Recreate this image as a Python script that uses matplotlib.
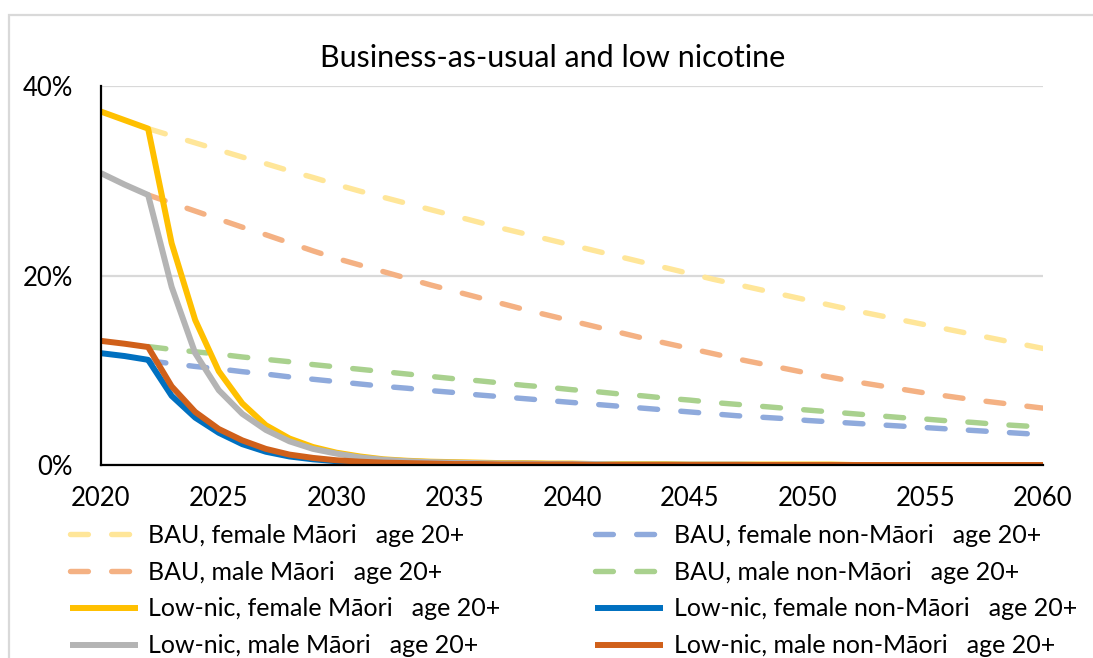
import matplotlib
matplotlib.use("Agg")
import matplotlib.pyplot as plt
from matplotlib.patches import Rectangle

plt.rcParams['font.family'] = ['Lato', 'DejaVu Sans']

# ---------------- data ----------------
years_ln = list(range(2020, 2061))
years_bau = list(range(2022, 2061))

bau_female_maori = [35.5, 34.75, 34.0, 33.25, 32.5, 31.8, 31.05, 30.35, 29.6, 28.9,
                    28.25, 27.6, 26.95, 26.3, 25.65, 25.0, 24.4, 23.8, 23.2, 22.6,
                    22.0, 21.4, 20.8, 20.2, 19.6, 19.05, 18.5, 17.95, 17.4, 16.85,
                    16.3, 15.8, 15.3, 14.8, 14.3, 13.8, 13.3, 12.8, 12.3]
bau_male_maori = [28.5, 27.65, 26.8, 25.95, 25.1, 24.3, 23.45, 22.6, 21.8, 21.1,
                  20.4, 19.7, 19.0, 18.35, 17.7, 17.05, 16.4, 15.8, 15.2, 14.6,
                  14.0, 13.4, 12.85, 12.3, 11.75, 11.2, 10.7, 10.2, 9.7, 9.25,
                  8.8, 8.4, 8.0, 7.6, 7.25, 6.9, 6.6, 6.3, 6.0]
bau_female_nonmaori = [11.0, 10.7, 10.4, 10.15, 9.85, 9.6, 9.3, 9.05, 8.8, 8.55,
                       8.3, 8.1, 7.85, 7.65, 7.4, 7.2, 7.0, 6.8, 6.6, 6.4,
                       6.2, 6.0, 5.8, 5.6, 5.4, 5.2, 5.05, 4.9, 4.7, 4.55,
                       4.4, 4.25, 4.1, 3.95, 3.8, 3.65, 3.5, 3.35, 3.2]
bau_male_nonmaori = [12.5, 12.2, 11.95, 11.7, 11.4, 11.15, 10.9, 10.6, 10.35, 10.1,
                     9.85, 9.6, 9.35, 9.1, 8.9, 8.65, 8.4, 8.2, 7.95, 7.75,
                     7.5, 7.3, 7.05, 6.85, 6.6, 6.4, 6.2, 6.0, 5.8, 5.6,
                     5.4, 5.2, 5.0, 4.85, 4.65, 4.5, 4.3, 4.15, 4.0]

ln_female_maori = [37.3, 36.4, 35.5, 23.4, 15.3, 9.9, 6.5, 4.2, 2.8, 1.9,
                   1.3, 0.9, 0.6, 0.45, 0.35, 0.3, 0.25, 0.2, 0.2, 0.15,
                   0.15, 0.1, 0.1, 0.1, 0.1, 0.05, 0.05, 0.05, 0.05, 0.05,
                   0.05, 0.05, 0.0, 0.0, 0.0, 0.0, 0.0, 0.0, 0.0, 0.0, 0.0]
ln_male_maori = [30.8, 29.6, 28.5, 18.8, 11.8, 7.9, 5.4, 3.7, 2.5, 1.7,
                 1.2, 0.8, 0.55, 0.4, 0.3, 0.25, 0.2, 0.15, 0.15, 0.1,
                 0.1, 0.1, 0.05, 0.05, 0.05, 0.05, 0.05, 0.05, 0.0, 0.0,
                 0.0, 0.0, 0.0, 0.0, 0.0, 0.0, 0.0, 0.0, 0.0, 0.0, 0.0]
ln_female_nonmaori = [11.8, 11.5, 11.1, 7.3, 5.0, 3.4, 2.2, 1.4, 0.9, 0.6,
                      0.4, 0.3, 0.2, 0.15, 0.1, 0.1, 0.05, 0.05, 0.05, 0.05,
                      0.0, 0.0, 0.0, 0.0, 0.0, 0.0, 0.0, 0.0, 0.0, 0.0,
                      0.0, 0.0, 0.0, 0.0, 0.0, 0.0, 0.0, 0.0, 0.0, 0.0, 0.0]
ln_male_nonmaori = [13.1, 12.8, 12.45, 8.3, 5.6, 3.8, 2.6, 1.7, 1.1, 0.75,
                    0.5, 0.35, 0.25, 0.2, 0.15, 0.1, 0.1, 0.05, 0.05, 0.05,
                    0.05, 0.0, 0.0, 0.0, 0.0, 0.0, 0.0, 0.0, 0.0, 0.0,
                    0.0, 0.0, 0.0, 0.0, 0.0, 0.0, 0.0, 0.0, 0.0, 0.0, 0.0]

labels = {
    'bau_fm': 'BAU, female Māori   age 20+',
    'bau_fn': 'BAU, female non-Māori   age 20+',
    'bau_mm': 'BAU, male Māori   age 20+',
    'bau_mn': 'BAU, male non-Māori   age 20+',
    'ln_fm': 'Low-nic, female Māori   age 20+',
    'ln_fn': 'Low-nic, female non-Māori   age 20+',
    'ln_mm': 'Low-nic, male Māori   age 20+',
    'ln_mn': 'Low-nic, male non-Māori   age 20+',
}
title = 'Business-as-usual and low nicotine'
x_ticks = [2020, 2025, 2030, 2035, 2040, 2045, 2050, 2055, 2060]
y_ticks = [0, 20, 40]
y_ticklabels = ['0%', '20%', '40%']

# ---------------- figure ----------------
W, H = 1093, 658
fig = plt.figure(figsize=(W / 100, H / 100), dpi=100)
fig.patch.set_facecolor('white')

# outer chart border
fig.patches.append(Rectangle((9 / W, -0.2), 1.2, (H - 15) / H + 0.2,
                             transform=fig.transFigure, fill=False,
                             edgecolor='#d9d9d9', linewidth=1.6, zorder=0))

ax = fig.add_axes([101 / W, (H - 465) / H, (1043 - 101) / W, (465 - 86) / H])

dash_lw = 3.9
solid_lw = 4.3
dash_pat = (3.3, 4.3)

def bau(y, color, key):
    l, = ax.plot(years_bau, y, color=color, lw=dash_lw, dashes=dash_pat,
                 dash_capstyle='round', solid_capstyle='round', label=labels[key])
    return l

def ln(y, color, key):
    l, = ax.plot(years_ln, y, color=color, lw=solid_lw, solid_joinstyle='round',
                 solid_capstyle='butt', label=labels[key])
    return l

h_bau_fm = bau(bau_female_maori, '#FFE699', 'bau_fm')
h_bau_fn = bau(bau_female_nonmaori, '#8FAADC', 'bau_fn')
h_bau_mm = bau(bau_male_maori, '#F4B183', 'bau_mm')
h_bau_mn = bau(bau_male_nonmaori, '#A9D18E', 'bau_mn')
h_ln_fm = ln(ln_female_maori, '#FFC000', 'ln_fm')
h_ln_fn = ln(ln_female_nonmaori, '#0070C0', 'ln_fn')
h_ln_mm = ln(ln_male_maori, '#B4B4B4', 'ln_mm')
h_ln_mn = ln(ln_male_nonmaori, '#D0601A', 'ln_mn')

ax.set_xlim(2020, 2060)
ax.set_ylim(0, 40)
ax.set_xticks(x_ticks)
ax.set_xticklabels([str(t) for t in x_ticks])
ax.set_yticks(y_ticks)
ax.set_yticklabels(y_ticklabels)
ax.tick_params(axis='both', length=0, labelsize=18.5, colors='black')
ax.tick_params(axis='x', pad=15)
ax.tick_params(axis='y', pad=20)
ax.grid(axis='y', color='#d9d9d9', lw=1.6, zorder=0)
ax.set_axisbelow(True)
for s in ['top', 'right']:
    ax.spines[s].set_visible(False)
ax.spines['left'].set_color('black')
ax.spines['left'].set_linewidth(1.6)
ax.spines['bottom'].set_color('black')
ax.spines['bottom'].set_linewidth(1.6)
ax.set_facecolor('none')

fig.text(553 / W, 1 - 58 / H, title, ha='center', va='center', fontsize=22)

leg_fs = 18
common = dict(frameon=False, fontsize=leg_fs, loc='upper left', borderpad=0,
              borderaxespad=0, handlelength=2.7, handletextpad=0.44,
              labelspacing=0.55)
leg1 = fig.legend(handles=[h_bau_fm, h_bau_mm, h_ln_fm, h_ln_mm],
                  bbox_to_anchor=(70 / W, 1 - 524 / H), **common)
leg2 = fig.legend(handles=[h_bau_fn, h_bau_mn, h_ln_fn, h_ln_mn],
                  bbox_to_anchor=(595 / W, 1 - 524 / H), **common)

fig.savefig('out.png', dpi=100)
